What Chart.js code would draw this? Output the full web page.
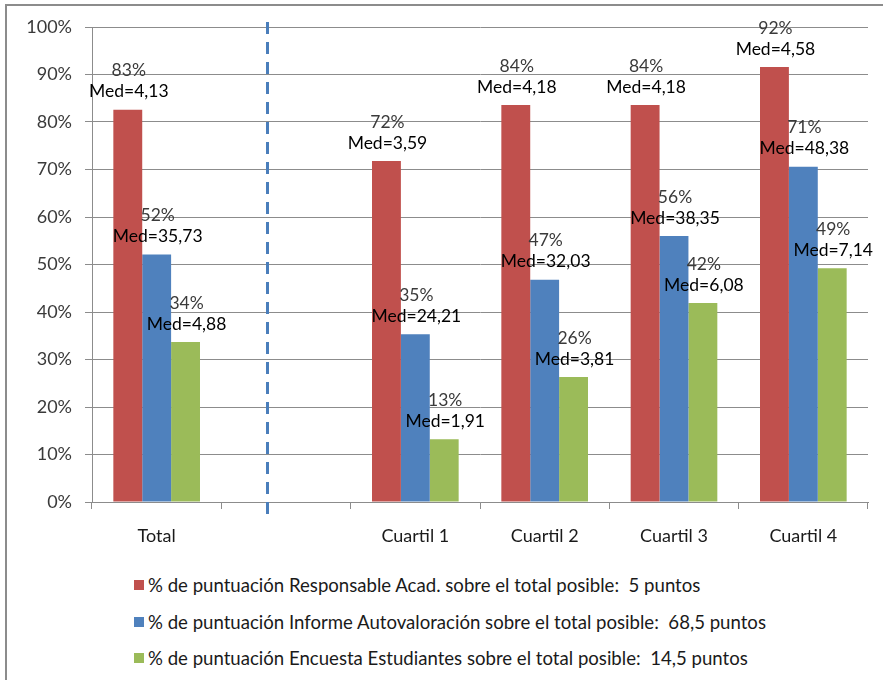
<!DOCTYPE html>
<html>
<head>
<meta charset="utf-8">
<script src="https://cdn.jsdelivr.net/npm/chart.js@4"></script>
<style>
  body { margin: 0; background: #fff; font-family: Lato, sans-serif; }
  #frame { position: absolute; left: 5px; top: 4px; width: 878px; height: 676px;
           border-left: 2px solid #8c8c8c; border-top: 2px solid #8c8c8c; box-sizing: border-box; }
  #chartWrap { position: absolute; left: 0; top: 0; width: 883px; height: 560px; }
  #legend { position: absolute; left: 134px; top: 567px; font-size: 18.6px; color: #1a1a1a; }
  #legend .item { height: 36.5px; display: flex; align-items: center; white-space: pre; }
  #legend .box { width: 10px; height: 10px; margin-right: 4px; }
</style>
</head>
<body>
<div id="frame"></div>
<div id="chartWrap"><canvas id="puntChart" width="883" height="560"></canvas></div>
<div id="legend"></div>
<script>
// Categories (the empty one holds the dashed separator)
const categories = ['Total', '', 'Cuartil 1', 'Cuartil 2', 'Cuartil 3', 'Cuartil 4'];

// % of possible score per series
const responsableValues = [82.6, null, 71.8, 83.6, 83.6, 91.6];
const informeValues     = [52.1, null, 35.3, 46.8, 56.0, 70.6];
const encuestaValues    = [33.7, null, 13.2, 26.3, 41.9, 49.2];

// Medians shown above each bar
const responsableMed = ['4,13', null, '3,59', '4,18', '4,18', '4,58'];
const informeMed     = ['35,73', null, '24,21', '32,03', '38,35', '48,38'];
const encuestaMed    = ['4,88', null, '1,91', '3,81', '6,08', '7,14'];

const seriesNames = [
    '% de puntuación Responsable Acad. sobre el total posible:  5 puntos',
    '% de puntuación Informe Autovaloración sobre el total posible:  68,5 puntos',
    '% de puntuación Encuesta Estudiantes sobre el total posible:  14,5 puntos'
];
const seriesColors = ['#c0504d', '#4f81bd', '#9bbb59'];
const medians = [responsableMed, informeMed, encuestaMed];

const yTicks = [0, 10, 20, 30, 40, 50, 60, 70, 80, 90, 100];

// Two-line labels above each bar: "83%" / "Med=4,13"
const barLabels = {
    id: 'barLabels',
    afterDatasetsDraw(chart) {
        const ctx = chart.ctx;
        const xs = chart.scales.x;
        const area = chart.chartArea;

        // dashed separator between Total and the quartiles
        ctx.save();
        ctx.strokeStyle = '#4a7ebb';
        ctx.lineWidth = 3;
        ctx.setLineDash([12, 8]);
        const sx = Math.round(xs.getPixelForValue(0.85)) + 0.5;
        ctx.beginPath();
        ctx.moveTo(sx, area.top - 5);
        ctx.lineTo(sx, area.bottom + 16);
        ctx.stroke();
        ctx.restore();

        ctx.save();
        ctx.textAlign = 'center';
        ctx.textBaseline = 'middle';
        ctx.font = '17.5px Lato';
        chart.data.datasets.forEach((ds, i) => {
            chart.getDatasetMeta(i).data.forEach((bar, j) => {
                if (ds.data[j] == null) return;
                ctx.fillStyle = '#3a3a3a';
                ctx.fillText(Math.round(ds.data[j]) + '%', bar.x + 1, bar.y - 39);
                ctx.fillStyle = '#000';
                ctx.fillText('Med=' + medians[i][j], bar.x + 1, bar.y - 18);
            });
        });
        ctx.restore();
    }
};

const chart = new Chart(document.getElementById('puntChart'), {
    type: 'bar',
    data: {
        labels: categories,
        datasets: [
            { label: seriesNames[0], data: responsableValues, backgroundColor: seriesColors[0] },
            { label: seriesNames[1], data: informeValues, backgroundColor: seriesColors[1] },
            { label: seriesNames[2], data: encuestaValues, backgroundColor: seriesColors[2] }
        ]
    },
    options: {
        responsive: false,
        animation: false,
        categoryPercentage: 0.67,
        barPercentage: 1.0,
        layout: { padding: { top: 27, right: 15, left: 0, bottom: 0 } },
        plugins: {
            legend: { display: false },
            tooltip: { enabled: false }
        },
        scales: {
            y: {
                min: 0,
                max: 100,
                afterFit: function(scale) { scale.width = 92; },
                afterBuildTicks: function(scale) {
                    scale.ticks = yTicks.map(v => ({ value: v }));
                },
                ticks: {
                    font: { family: 'Lato', size: 18 },
                    color: '#3a3a3a',
                    padding: 13,
                    callback: function(value) { return value + '%'; }
                },
                grid: { color: '#8c8c8c', tickLength: 7 },
                border: { color: '#8c8c8c' }
            },
            x: {
                afterFit: function(scale) { scale.height = 58; },
                ticks: {
                    font: { family: 'Lato', size: 18 },
                    color: '#1a1a1a',
                    padding: 16
                },
                grid: { drawOnChartArea: false, color: '#8c8c8c', tickLength: 7 },
                border: { color: '#8c8c8c' }
            }
        }
    },
    plugins: [barLabels]
});

// HTML legend built from the datasets
const legendEl = document.getElementById('legend');
chart.data.datasets.forEach(ds => {
    const item = document.createElement('div');
    item.className = 'item';
    const box = document.createElement('span');
    box.className = 'box';
    box.style.background = ds.backgroundColor;
    const txt = document.createElement('span');
    txt.textContent = ds.label;
    item.appendChild(box);
    item.appendChild(txt);
    legendEl.appendChild(item);
});
</script>
</body>
</html>
